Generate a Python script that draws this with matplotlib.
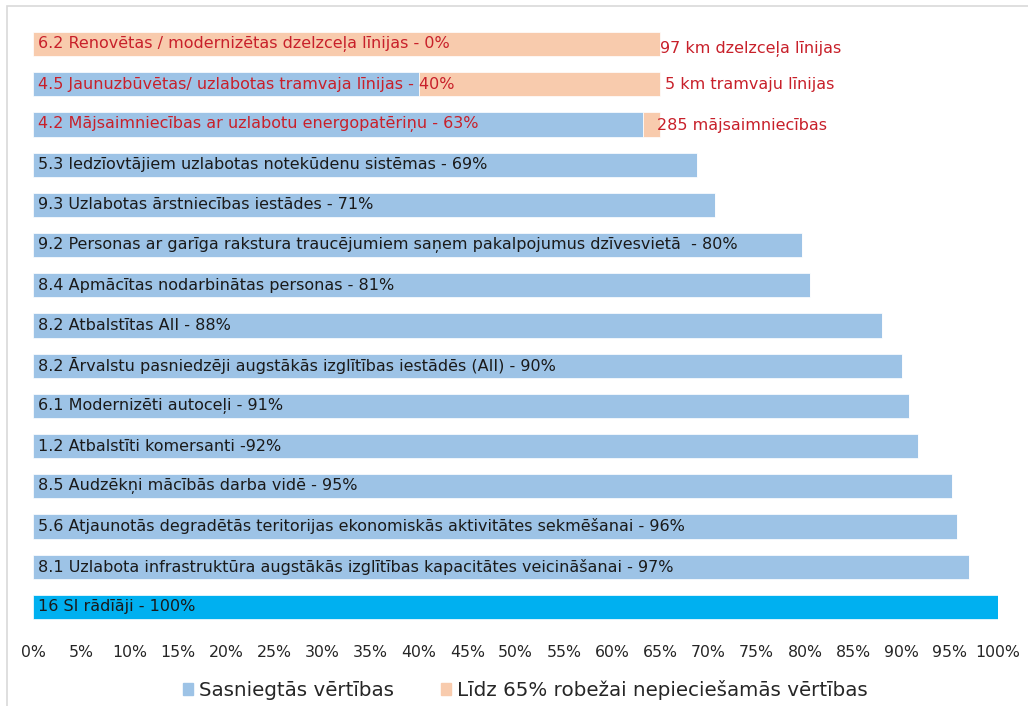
import matplotlib.pyplot as plt
import matplotlib.patches as mpatches
from matplotlib.ticker import PercentFormatter

# rows from top to bottom
labels = [
    "6.2 Renovētas / modernizētas dzelzceļa līnijas - 0%",
    "4.5 Jaunuzbūvētas/ uzlabotas tramvaja līnijas - 40%",
    "4.2 Mājsaimniecības ar uzlabotu energopatēriņu - 63%",
    "5.3 Iedzīovtājiem uzlabotas notekūdenu sistēmas - 69%",
    "9.3 Uzlabotas ārstniecības iestādes - 71%",
    "9.2 Personas ar garīga rakstura traucējumiem saņem pakalpojumus dzīvesvietā  - 80%",
    "8.4 Apmācītas nodarbinātas personas - 81%",
    "8.2 Atbalstītas AII - 88%",
    "8.2 Ārvalstu pasniedzēji augstākās izglītības iestādēs (AII) - 90%",
    "6.1 Modernizēti autoceļi - 91%",
    "1.2 Atbalstīti komersanti -92%",
    "8.5 Audzēkņi mācībās darba vidē - 95%",
    "5.6 Atjaunotās degradētās teritorijas ekonomiskās aktivitātes sekmēšanai - 96%",
    "8.1 Uzlabota infrastruktūra augstākās izglītības kapacitātes veicināšanai - 97%",
    "16 SI rādīāji - 100%",
]
achieved = [0, 40, 63.2, 68.8, 70.7, 79.7, 80.5, 88, 90, 90.8, 91.7, 95.2, 95.7, 97, 100]
needed = [65, 25, 1.8, 0, 0, 0, 0, 0, 0, 0, 0, 0, 0, 0, 0]
notes = ["97 km dzelzceļa līnijas", "5 km tramvaju līnijas", "285 mājsaimniecības"]

blue = "#9DC3E6"
orange = "#F8CBAD"
bright = "#00B0F0"
red = "#C8202A"

fig = plt.figure(figsize=(10.28, 7.06), dpi=100)
ax = fig.add_axes([33 / 1028, 1 - 627 / 706, 965 / 1028, 603 / 706])

rows = list(range(len(labels)))
colors = [blue] * (len(labels) - 1) + [bright]
ax.barh(rows, achieved, height=0.6, color=colors, edgecolor="white", linewidth=0.5)
ax.barh(rows, needed, left=achieved, height=0.6, color=orange, edgecolor="white", linewidth=0.5)

for i, lab in enumerate(labels):
    c = red if i < 3 else "#1a1a1a"
    ax.text(0.5, i, lab, va="center", ha="left", fontsize=11.5, color=c)

dx = [-0.05, 0.45, -0.3]
dy = [0.12, 0.0, 0.03]
for i, note in enumerate(notes):
    ax.text(achieved[i] + needed[i] + dx[i], i + dy[i], note,
            va="center", ha="left", fontsize=11.5, color=red)

ax.set_xlim(0, 100)
ax.set_ylim(14.5, -0.5)
ax.set_xticks(range(0, 101, 5))
ax.xaxis.set_major_formatter(PercentFormatter(decimals=0))
ax.set_yticks([])
ax.tick_params(axis="x", length=0, pad=13, labelsize=11.3, labelcolor="#262626")
for s in ax.spines.values():
    s.set_visible(False)

handles = [mpatches.Patch(color=blue), mpatches.Patch(color=orange)]
leg = fig.legend(handles, ["Sasniegtās vērtības", "Līdz 65% robežai nepieciešamās vērtības"],
                 loc="center", bbox_to_anchor=(0.511, 1 - 690 / 706), ncol=2, frameon=False,
                 handlelength=0.5, handleheight=0.5, handletextpad=0.3, columnspacing=2.4,
                 fontsize=14.3)
for t in leg.get_texts():
    t.set_color("#262626")

# chart frame
fig.add_artist(mpatches.Rectangle((7 / 1028, -0.2), 1.2, 1.2 - 6 / 706, transform=fig.transFigure,
                                  fill=False, edgecolor="#D9D9D9", linewidth=1.2))

fig.savefig("out.png", dpi=100)
